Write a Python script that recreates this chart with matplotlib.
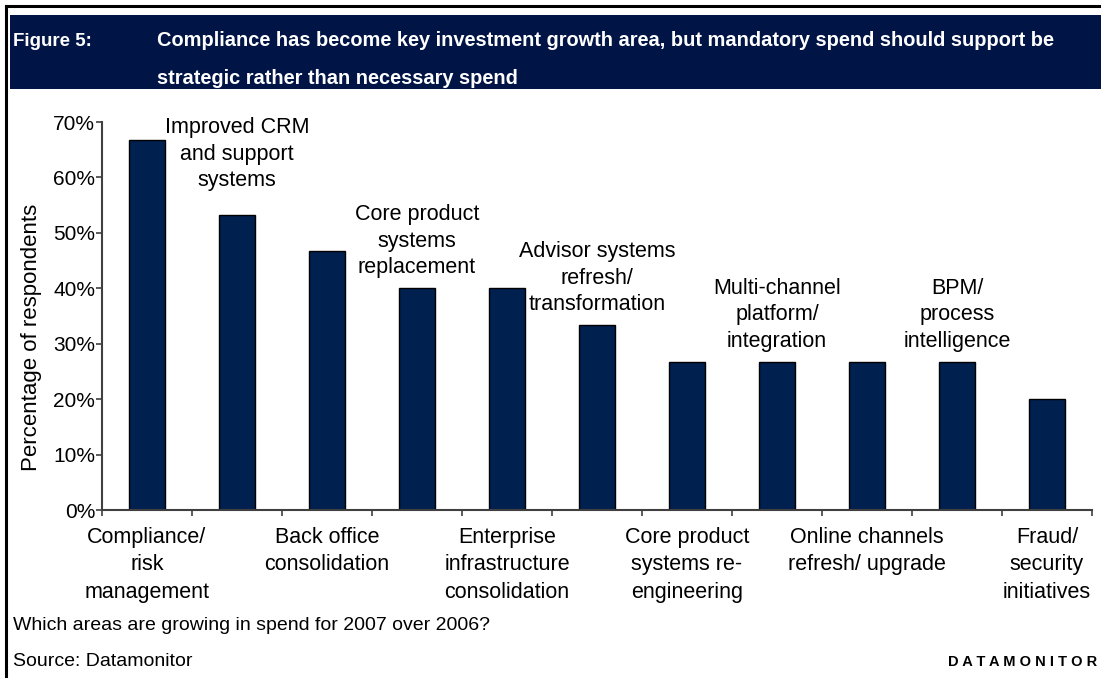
import matplotlib.pyplot as plt
import numpy as np
from matplotlib.patches import Rectangle
from matplotlib.lines import Line2D

plt.rcParams['font.family'] = ['Liberation Sans', 'DejaVu Sans']

# share of respondents (%) reporting growing spend, 2007 over 2006
categories = [
    "Compliance/\nrisk\nmanagement",
    "Improved CRM\nand support\nsystems",
    "Back office\nconsolidation",
    "Core product\nsystems\nreplacement",
    "Enterprise\ninfrastructure\nconsolidation",
    "Advisor systems\nrefresh/\ntransformation",
    "Core product\nsystems re-\nengineering",
    "Multi-channel\nplatform/\nintegration",
    "Online channels\nrefresh/ upgrade",
    "BPM/\nprocess\nintelligence",
    "Fraud/\nsecurity\ninitiatives",
]
values = [66.7, 53.3, 46.7, 40.0, 40.0, 33.3, 26.7, 26.7, 26.7, 26.7, 20.0]
yticks = [0, 10, 20, 30, 40, 50, 60, 70]

NAVY = "#002050"
BAND = "#001446"

W, H = 1101, 678
fig = plt.figure(figsize=(W / 100, H / 100), dpi=100)


def fx(px):
    return px / W


def fy(py):
    return 1 - py / H


# frame lines on left and top
fig.add_artist(Line2D([fx(6), fx(6)], [0, fy(6)], color="black", lw=2.2))
fig.add_artist(Line2D([fx(6), 1], [fy(6), fy(6)], color="black", lw=2.2))

# title band
fig.add_artist(Rectangle((fx(10), fy(89)), 1 - fx(10), fy(15) - fy(89),
                         facecolor=BAND, edgecolor="none"))
fig.text(fx(13), fy(41), "Figure 5:", color="white", fontsize=13.5,
         fontweight="bold", va="center")
fig.text(fx(157), fy(41),
         "Compliance has become key investment growth area, but mandatory spend should support be",
         color="white", fontsize=14.4, fontweight="bold", va="center")
fig.text(fx(157), fy(79), "strategic rather than necessary spend",
         color="white", fontsize=14.4, fontweight="bold", va="center")

ax = fig.add_axes([fx(102), fy(510), fx(1092) - fx(102), fy(122) - fy(510)])
x = np.arange(len(categories))
ax.bar(x, values, width=0.41, color=NAVY, edgecolor="black", linewidth=1)

ax.set_xlim(-0.5, len(categories) - 0.5)
ax.set_ylim(0, 70)
ax.set_yticks(yticks)
ax.set_yticklabels([f"{t}%" for t in yticks], fontsize=15)

# boundary ticks on the category axis, labels on every other category
ax.set_xticks(np.arange(len(categories) + 1) - 0.5)
ax.set_xticklabels([])
ax.set_xticks(x, minor=True)
ax.set_xticklabels([c if i % 2 == 0 else "" for i, c in enumerate(categories)],
                   minor=True, fontsize=15.5, linespacing=1.38)
ax.tick_params(axis="x", which="major", direction="out", length=4,
               color="#404040", width=1.2)
ax.tick_params(axis="x", which="minor", length=0, pad=12.5)
ax.tick_params(axis="y", direction="out", length=4, color="#404040",
               width=1.2, pad=1)

# the other categories are named above their bars
for i in range(1, len(categories), 2):
    off = 4.2 if values[i] > 50 else 1.8
    ax.text(x[i], values[i] + off, categories[i], ha="center", va="bottom",
            fontsize=15.5, linespacing=1.36, clip_on=False)

for side in ("top", "right"):
    ax.spines[side].set_visible(False)
for side in ("left", "bottom"):
    ax.spines[side].set_color("#404040")
    ax.spines[side].set_linewidth(1.5)

fig.text(fx(32), fy(337), "Percentage of respondents", rotation=90,
         fontsize=16, ha="center", va="center")

fig.text(fx(13), fy(626), "Which areas are growing in spend for 2007 over 2006?",
         fontsize=14, va="center")
fig.text(fx(13), fy(662), "Source: Datamonitor", fontsize=14, va="center")
fig.text(fx(1097), fy(662), "D A T A M O N I T O R", fontsize=10.5,
         fontweight="bold", ha="right", va="center")

fig.savefig("out.png", dpi=100)
